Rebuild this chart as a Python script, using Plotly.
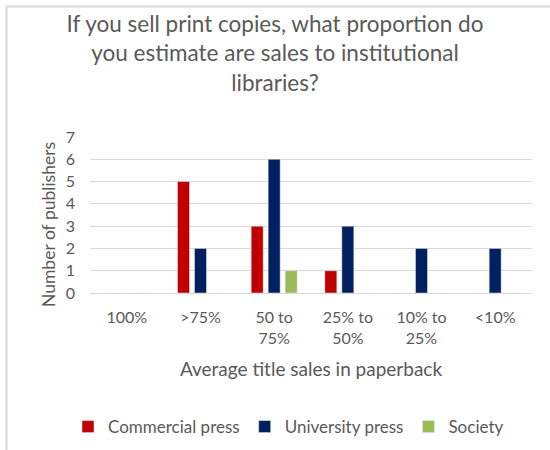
import plotly.graph_objects as go

# Survey responses: share of print sales going to institutional libraries
categories = ["100%", ">75%", "50 to 75%", "25% to 50%", "10% to 25%", "<10%"]
tick_labels = ["100%", ">75%", "50 to<br>75%", "25% to<br>50%", "10% to<br>25%", "<10%"]
commercial_press = [0, 5, 3, 1, 0, 0]
university_press = [0, 2, 6, 3, 2, 2]
society = [0, 0, 1, 0, 0, 0]

FONT = "Lato"
GREY = "#595959"
GRID = "#d9d9d9"

W, H = 550, 450
ML, MR, MT, MB = 90, 18, 137, 157

fig = go.Figure()
fig.add_trace(go.Bar(name="Commercial press", x=categories, y=commercial_press,
                     marker=dict(color="#C00000")))
fig.add_trace(go.Bar(name="University press", x=categories, y=university_press,
                     marker=dict(color="#002060")))
fig.add_trace(go.Bar(name="Society", x=categories, y=society,
                     marker=dict(color="#9BBB59")))

pw = W - ML - MR
ph = H - MT - MB


def px_x(x):
    return (x - ML) / pw


def px_y(y):
    return (H - MB - y) / ph


# Chart frame (top and left edges)
fig.add_shape(type="line", xref="paper", yref="paper",
              x0=px_x(6.5), x1=px_x(560), y0=px_y(6.5), y1=px_y(6.5),
              line=dict(color=GRID, width=2))
fig.add_shape(type="line", xref="paper", yref="paper",
              x0=px_x(6.5), x1=px_x(6.5), y0=px_y(6.5), y1=px_y(460),
              line=dict(color=GRID, width=2))

# Y axis title
fig.add_annotation(text="Number of publishers", xref="paper", yref="paper",
                   x=px_x(48), y=px_y(225), textangle=-90, showarrow=False,
                   font=dict(family=FONT, size=17.5, color=GREY),
                   xanchor="center", yanchor="middle")

fig.update_layout(
    width=W, height=H,
    margin=dict(l=ML, r=MR, t=MT, b=MB, autoexpand=False),
    paper_bgcolor="white", plot_bgcolor="white",
    barmode="group", bargap=0.308, bargroupgap=0.294,
    title=dict(text="If you sell print copies, what proportion do<br>you estimate are sales to institutional<br>libraries?",
               x=0.5, xanchor="center", y=1 - 32 / H, yanchor="middle",
               font=dict(family=FONT, size=22.5, color=GREY)),
    font=dict(family=FONT, color=GREY),
    legend=dict(orientation="h", x=px_x(68), xanchor="left",
                y=px_y(427), yanchor="middle",
                font=dict(family=FONT, size=17, color=GREY)),
    showlegend=True,
)
fig.update_xaxes(categoryorder="array", categoryarray=categories,
                 tickmode="array", tickvals=categories, ticktext=tick_labels,
                 tickfont=dict(family=FONT, size=16, color=GREY),
                 showline=True, linecolor=GRID, linewidth=1, automargin=False,
                 showgrid=False, ticks="", ticklabelstandoff=10,
                 title=dict(text="Average title sales in paperback", standoff=16,
                            font=dict(family=FONT, size=19, color=GREY)))
fig.update_yaxes(range=[0, 7], dtick=1, showgrid=True, gridcolor=GRID, gridwidth=1,
                 zeroline=False, showline=False, ticks="", automargin=False,
                 tickfont=dict(family=FONT, size=16, color=GREY),
                 ticklabelstandoff=14)

fig.write_html("out.html")
